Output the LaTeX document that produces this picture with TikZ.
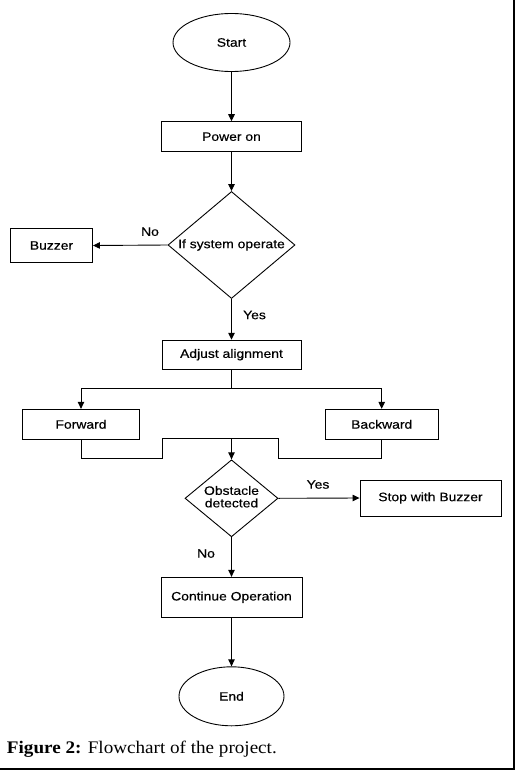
\documentclass[tikz,border=0pt]{standalone}
\usepackage{fontspec}
\setmainfont{Liberation Sans}[FakeStretch=1.14,FakeBold=0.4]
\newfontfamily\capfont{Liberation Serif}[FakeStretch=1.08]
\usetikzlibrary{shapes.geometric,arrows.meta}
\begin{document}
\begin{tikzpicture}[x=1pt,y=-1pt,
  line width=0.9pt,
  every node/.style={font=\fontsize{12.2}{14}\selectfont},
  box/.style={draw,rectangle,inner sep=0pt},
  oval/.style={draw,ellipse,inner sep=0pt},
  dia/.style={draw,diamond,inner sep=0pt},
  arr/.style={-{Triangle[length=7pt,width=6.5pt]}},
  lbl/.style={inner sep=0pt}]
\useasboundingbox (0,0) rectangle (516,770);
\node[oval,minimum width=117pt,minimum height=58pt] (start) at (231.5,42.5) {Start};
\node[box,minimum width=140pt,minimum height=30pt] (power) at (231.5,136.7) {Power on};
\node[dia,minimum width=127pt,minimum height=107pt] (sys) at (231.5,245) {\makebox[0pt]{If system operate}};
\node[box,minimum width=82pt,minimum height=34pt] (buzzer) at (51.5,245.5) {Buzzer};
\node[box,minimum width=139pt,minimum height=29pt] (adjust) at (231.5,354.7) {Adjust alignment};
\node[box,minimum width=117pt,minimum height=30pt] (fwd) at (81,424.3) {Forward};
\node[box,minimum width=113pt,minimum height=30pt] (bwd) at (381.7,424.3) {Backward};
\node[dia,minimum width=93pt,minimum height=77pt] (obs) at (231.5,498.3) {\makebox[0pt]{\begin{tabular}{@{}c@{}}Obstacle\\[-1.5pt]detected\end{tabular}}};
\node[box,minimum width=141pt,minimum height=36pt] (stop) at (430.5,498) {Stop with Buzzer};
\node[box,minimum width=141pt,minimum height=40pt] (cont) at (231.5,597.3) {Continue Operation};
\node[oval,minimum width=105pt,minimum height=59pt] (end) at (231.5,696.3) {End};

\coordinate (split) at (231.5,388.3);
\coordinate (jLb) at (162.7,458.3);
\coordinate (jL) at (162.7,438.3);
\coordinate (jm) at (231.5,438.3);
\coordinate (jR) at (278.3,438.3);
\coordinate (jRb) at (278.3,458.3);

\draw[arr] (start) -- (power);
\draw[arr] (power) -- (sys);
\draw[arr] (sys.west) -- (buzzer.east);
\node[lbl] (no1) at (150,231.7) {No};
\draw[arr] (sys.south) -- (adjust.north);
\node[lbl] (yes1) at (254.5,315) {Yes};
\draw (adjust.south) -- (split);
\draw[arr] (split) -| (fwd.north);
\draw[arr] (split) -| (bwd.north);
\draw (fwd.south) |- (jLb) -- (jL) -- (jR) -- (jRb) -| (bwd.south);
\draw[arr] (jm) -- (obs.north);
\draw[arr] (obs.east) -- (stop.west);
\node[lbl] (yes2) at (318,484.5) {Yes};
\draw[arr] (obs.south) -- (cont.north);
\node[lbl] (no2) at (206,553.5) {No};
\draw[arr] (cont) -- (end);

\node[anchor=base west,inner sep=0pt,font=\capfont\fontsize{17.7}{20}\selectfont] (cap) at (6.5,753.3) {\textbf{Figure 2:} Flowchart of the project.};
\coordinate (bl) at (0,769);
\coordinate (br) at (514,769);
\coordinate (tr) at (514,0);
\draw[line width=1.4pt] (bl) -- (br) -- (tr);
\end{tikzpicture}
\end{document}
